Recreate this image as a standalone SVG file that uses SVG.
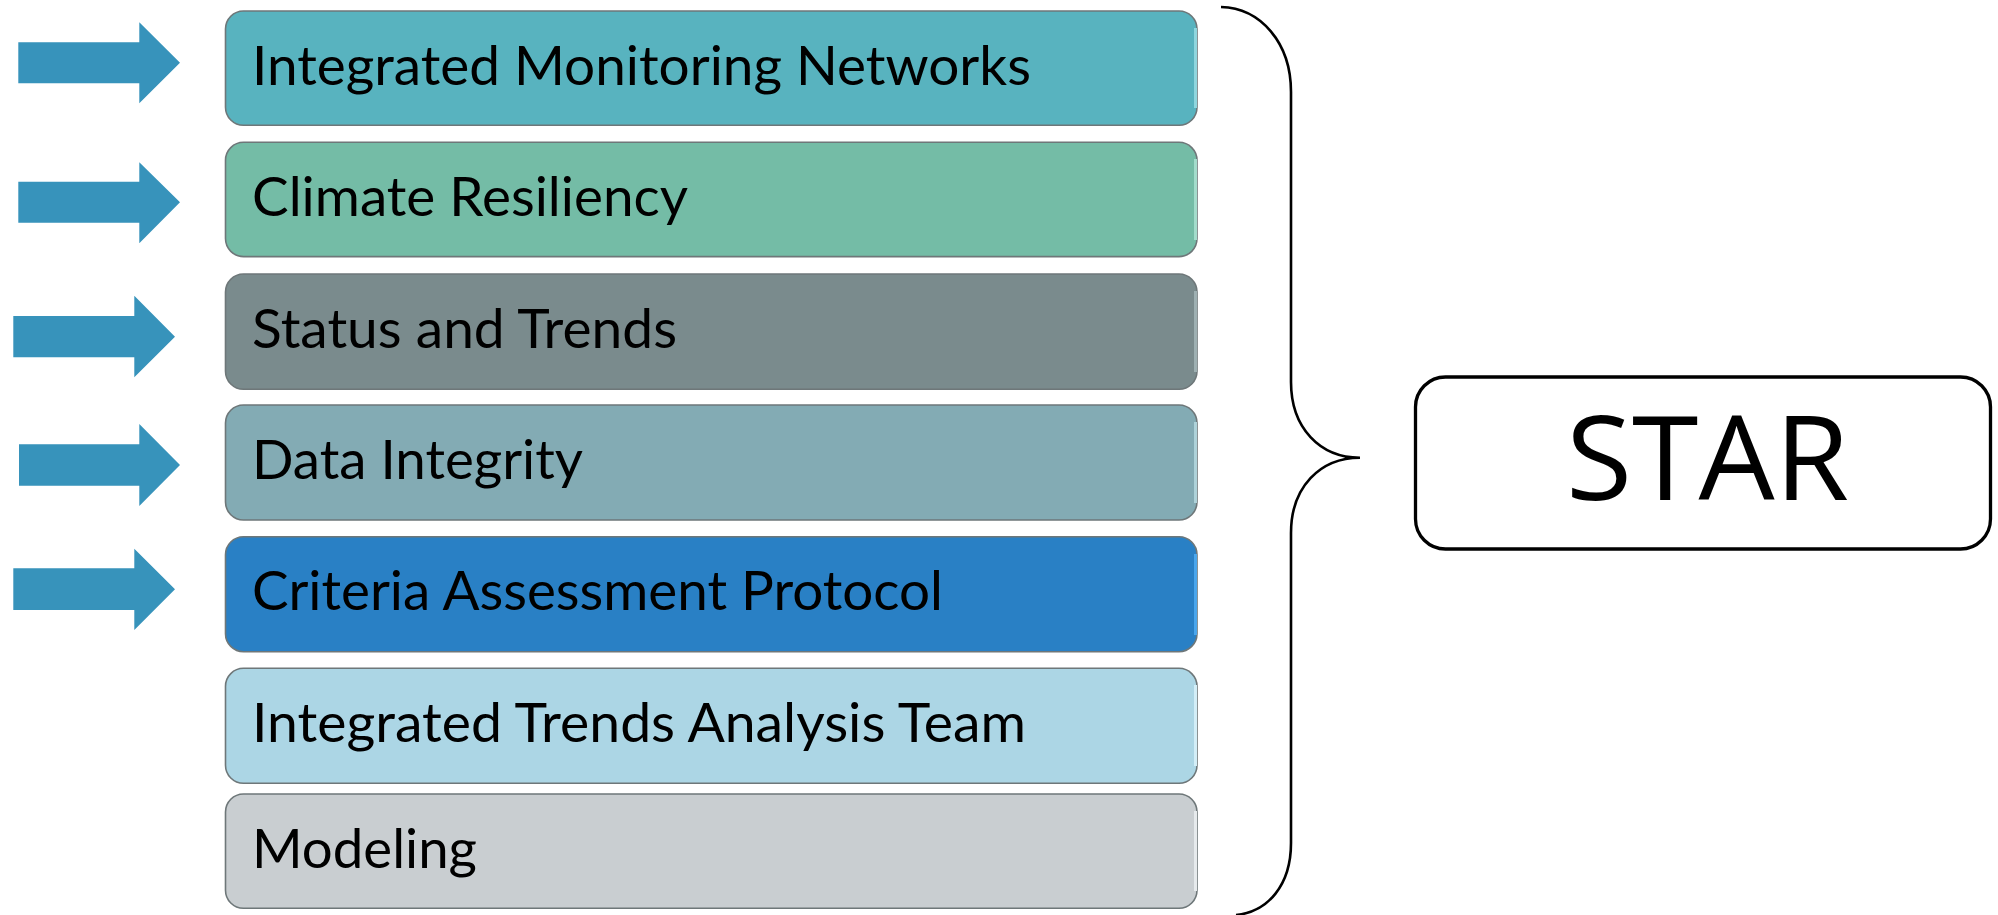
<svg xmlns="http://www.w3.org/2000/svg" width="1998" height="915" viewBox="0 0 1998 915">
<style>
.box{stroke:#6e7779;stroke-width:1.6}
.lbl{font-family:Lato,"Open Sans","Liberation Sans",sans-serif;font-size:54px;fill:#000}
.arrow{fill:#3793bb}
.edge{stroke-width:3;fill:none}
.brace{fill:none;stroke:#000;stroke-width:2.6}
</style>
<rect width="1998" height="915" fill="#fff"/>
<g id="arrows">
<polygon class="arrow" points="18.3,42.3 139.3,42.3 139.3,22.3 180,62.7 139.3,103.3 139.3,83.3 18.3,83.3"/>
<polygon class="arrow" points="18.3,181.7 139.3,181.7 139.3,162.3 180,202.3 139.3,243.3 139.3,222.7 18.3,222.7"/>
<polygon class="arrow" points="13.3,316 134.3,316 134.3,295.7 175,336.7 134.3,377.3 134.3,357.3 13.3,357.3"/>
<polygon class="arrow" points="19,444.3 139.3,444.3 139.3,424 180,465 139.3,506 139.3,485.7 19,485.7"/>
<polygon class="arrow" points="13.3,568.3 134.3,568.3 134.3,548.7 175,589.3 134.3,630 134.3,610 13.3,610"/>
</g>
<g id="n1">
<rect class="box" x="225.5" y="11" width="971.5" height="114.3" rx="18" fill="#58b3bf"/>
<line class="edge" x1="1195.5" y1="28" x2="1195.5" y2="108" stroke="#8fd6de"/>
<text class="lbl" x="252" y="85" textLength="779" lengthAdjust="spacingAndGlyphs">Integrated Monitoring Networks</text>
</g>
<g id="n2">
<rect class="box" x="225.5" y="142.3" width="971.5" height="114.3" rx="18" fill="#74bca6"/>
<line class="edge" x1="1195.5" y1="159" x2="1195.5" y2="240" stroke="#a3dccb"/>
<text class="lbl" x="252" y="215.5" textLength="436" lengthAdjust="spacingAndGlyphs">Climate Resiliency</text>
</g>
<g id="n3">
<rect class="box" x="225.5" y="274" width="971.5" height="115.3" rx="18" fill="#7a8b8d"/>
<line class="edge" x1="1195.5" y1="291" x2="1195.5" y2="372" stroke="#9eb0b2"/>
<text class="lbl" x="252" y="348.3" textLength="425" lengthAdjust="spacingAndGlyphs">Status and Trends</text>
</g>
<g id="n4">
<rect class="box" x="225.5" y="405" width="971.5" height="115" rx="18" fill="#83abb4"/>
<line class="edge" x1="1195.5" y1="422" x2="1195.5" y2="503" stroke="#aed2d9"/>
<text class="lbl" x="252" y="479.3" textLength="331" lengthAdjust="spacingAndGlyphs">Data Integrity</text>
</g>
<g id="n5">
<rect class="box" x="225.5" y="536.7" width="971.5" height="115" rx="18" fill="#2980c5"/>
<line class="edge" x1="1195.5" y1="554" x2="1195.5" y2="635" stroke="#4aa6ec"/>
<text class="lbl" x="252" y="610" textLength="691" lengthAdjust="spacingAndGlyphs">Criteria Assessment Protocol</text>
</g>
<g id="n6">
<rect class="box" x="225.5" y="668.3" width="971.5" height="115" rx="18" fill="#acd6e5"/>
<line class="edge" x1="1195.5" y1="685" x2="1195.5" y2="766" stroke="#d3eef7"/>
<text class="lbl" x="252" y="741.7" textLength="774" lengthAdjust="spacingAndGlyphs">Integrated Trends Analysis Team</text>
</g>
<g id="n7">
<rect class="box" x="225.5" y="794" width="971.5" height="114.3" rx="18" fill="#c9ced1"/>
<line class="edge" x1="1195.5" y1="811" x2="1195.5" y2="891" stroke="#e6eaec"/>
<text class="lbl" x="252" y="868.3" textLength="225" lengthAdjust="spacingAndGlyphs">Modeling</text>
</g>
<g id="connectors">
<path class="brace" d="M1221,7 C1260,8 1291,42 1291,92 L1291,382 C1291,428 1320,457.7 1360,457.7 C1320,457.7 1291,487 1291,533 L1291,843 C1291,885 1268,912 1236,915"/>
</g>
<g id="star">
<rect x="1415.5" y="377" width="575" height="172" rx="30" fill="#fff" stroke="#000" stroke-width="3.3"/>
<text x="1707.5" y="500" text-anchor="middle" font-family="'Open Sans','DejaVu Sans',sans-serif" font-size="118" textLength="283" lengthAdjust="spacingAndGlyphs">STAR</text>
</g>
</svg>
